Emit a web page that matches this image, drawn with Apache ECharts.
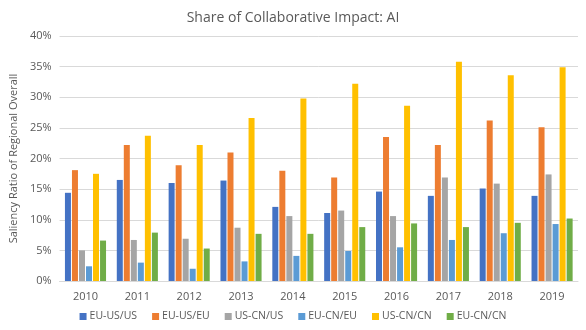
<!DOCTYPE html>
<html>
<head>
<meta charset="utf-8">
<script src="https://cdn.jsdelivr.net/npm/echarts@6/dist/echarts.min.js"></script>
<style>
  html, body { margin: 0; padding: 0; background: #fff; }
  #chart { width: 586px; height: 330px; }
</style>
</head>
<body>
<div id="chart"></div>
<script>
const years = ["2010", "2011", "2012", "2013", "2014", "2015", "2016", "2017", "2018", "2019"];
const euUsUs = [14.4, 16.5, 16.0, 16.4, 12.1, 11.1, 14.6, 13.9, 15.1, 13.9];
const euUsEu = [18.1, 22.2, 18.9, 21.0, 18.0, 16.9, 23.5, 22.2, 26.2, 25.1];
const usCnUs = [5.0, 6.7, 6.9, 8.7, 10.6, 11.5, 10.6, 16.9, 15.9, 17.4];
const euCnEu = [2.4, 3.0, 2.0, 3.2, 4.1, 4.9, 5.5, 6.7, 7.8, 9.3];
const usCnCn = [17.5, 23.7, 22.2, 26.6, 29.8, 32.2, 28.6, 35.8, 33.6, 34.9];
const euCnCn = [6.6, 7.9, 5.3, 7.7, 7.7, 8.8, 9.4, 8.8, 9.5, 10.2];

(() => {
  let myChart = echarts.init(document.querySelector("#chart"));
  const font = "Open Sans";
  const grey = "#595959";
  const mk = (name, data, color) => ({
    name: name,
    type: "bar",
    barWidth: 6,
    barGap: "17%",
    itemStyle: { color: color },
    data: data,
  });
  let option = {
    animation: false,
    textStyle: { fontFamily: font },
    title: {
      text: "Share of Collaborative Impact: AI",
      left: "center",
      top: 6,
      textStyle: { color: grey, fontSize: 14, fontWeight: "normal", fontFamily: font },
    },
    legend: {
      bottom: 3,
      left: "center",
      icon: "rect",
      itemWidth: 7,
      itemHeight: 7,
      itemGap: 15,
      textStyle: { color: grey, fontSize: 10.5, padding: [0, 0, 0, -2] },
    },
    grid: {
      left: 57,
      right: 8,
      top: 36,
      bottom: 49,
    },
    xAxis: {
      type: "category",
      data: years,
      axisLine: { lineStyle: { color: "#d9d9d9" } },
      axisTick: { show: false },
      axisLabel: { color: grey, fontSize: 11, margin: 10 },
    },
    yAxis: {
      type: "value",
      min: 0,
      max: 40,
      interval: 5,
      name: "Saliency Ratio of Regional Overall",
      nameLocation: "middle",
      nameGap: 40,
      nameTextStyle: { color: grey, fontSize: 11 },
      axisLine: { show: false },
      axisTick: { show: false },
      axisLabel: { color: grey, fontSize: 11, formatter: "{value}%" },
      splitLine: { lineStyle: { color: "#d9d9d9" } },
    },
    series: [
      mk("EU-US/US", euUsUs, "#4472c4"),
      mk("EU-US/EU", euUsEu, "#ed7d31"),
      mk("US-CN/US", usCnUs, "#a5a5a5"),
      mk("EU-CN/EU", euCnEu, "#5b9bd5"),
      mk("US-CN/CN", usCnCn, "#ffc000"),
      mk("EU-CN/CN", euCnCn, "#70ad47"),
    ],
  };
  myChart.setOption(option);
  window.addEventListener("resize", () => {
    myChart.resize();
  });
})();
</script>
</body>
</html>
